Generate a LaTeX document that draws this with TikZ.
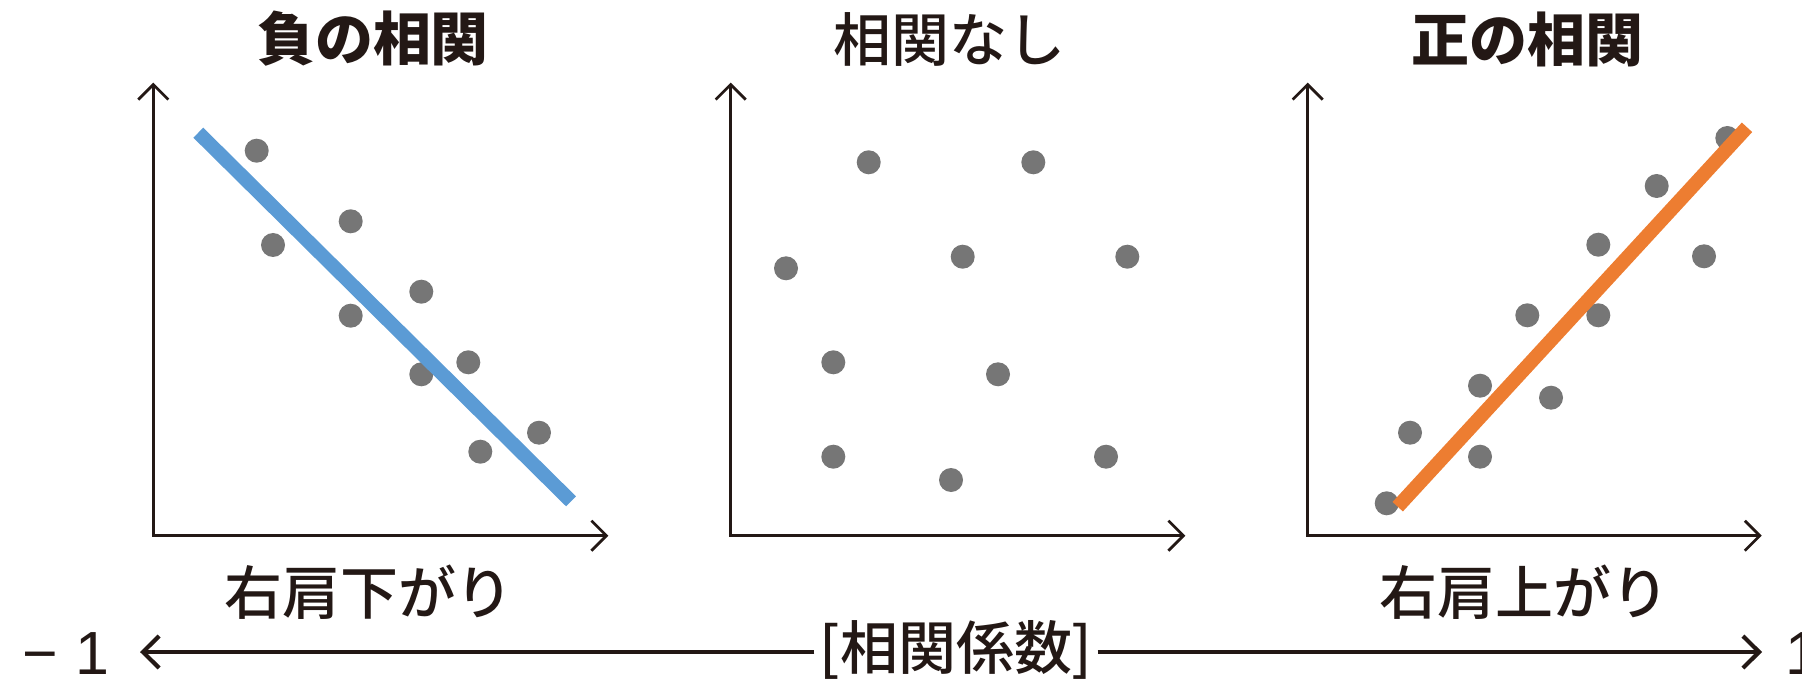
\documentclass[tikz,border=0pt]{standalone}
\usepackage{fontspec}
\setmainfont{Noto Sans CJK JP}[UprightFont={Noto Sans CJK JP Medium},BoldFont={Noto Sans CJK JP Black}]
\newfontfamily\numfont{Liberation Sans}
\usetikzlibrary{arrows.meta}
\definecolor{ink}{RGB}{35,24,21}
\definecolor{dotgray}{RGB}{118,118,118}
\definecolor{negblue}{RGB}{91,155,213}
\definecolor{posorange}{RGB}{237,125,49}
\begin{document}
\begin{tikzpicture}[x=0.03cm,y=-0.03cm,
  axis/.style={draw=ink,line width=2.3pt,line join=miter,
    {Straight Barb[length=12.8pt,width=25.6pt]}-{Straight Barb[length=12.8pt,width=25.6pt]}},
  bigarrow/.style={draw=ink,line width=3.6pt,-{Straight Barb[length=13.7pt,width=27.3pt]}},
  txt/.style={text=ink,inner sep=0pt,font=\fontsize{49.5}{50}\selectfont},
  numtxt/.style={text=ink,inner sep=0pt,font=\fontsize{52}{54}\selectfont\numfont},
  dot/.style={fill=dotgray},
  fitline/.style={line width=12pt,line cap=butt}]
\useasboundingbox (0,0) rectangle (1802,683);
% titles
\node[txt] (t1) at (373,39) {\bfseries 負の相関};
\node[txt] (t2) at (949,39) {相関なし};
\node[txt] (t3) at (1527,39) {\bfseries 正の相関};
% panel 1
\foreach \x/\y in {256.7/150.7,273/245,350.7/221.3,350.7/315.7,421.3/291.7,421.3/374.3,468.3/362.3,480.3/451.7,539/432.7}
  \fill[dot] (\x,\y) circle[radius=0.36cm];
\draw[fitline,draw=negblue] (198.3,132.7) -- (571,501.3);
\draw[axis] (153.3,82.7) -- (153.3,535.7) -- (608.3,535.7);
% panel 2
\foreach \x/\y in {868.7/162.3,1033.3/162.3,786/268.3,962.7/256.7,1127.3/256.7,833.3/362.3,998/374.3,833.3/456.7,951/480,1106/456.7}
  \fill[dot] (\x,\y) circle[radius=0.36cm];
\draw[axis] (730.7,82.7) -- (730.7,535.7) -- (1185.3,535.7);
% panel 3
\foreach \x/\y in {1386.7/503.3,1410/432.7,1480/456.7,1480/385.7,1551/397.7,1527.3/315.3,1598.3/315.3,1598.3/244.7,1704/256.3,1656.7/186,1727.3/138}
  \fill[dot] (\x,\y) circle[radius=0.36cm];
\draw[fitline,draw=posorange] (1397.7,506.7) -- (1747,127.3);
\draw[axis] (1307.7,82.7) -- (1307.7,535.7) -- (1761.7,535.7);
% sublabels
\node[txt] (s1) at (369,592) {右肩下がり};
\node[txt] (s3) at (1524,592) {右肩上がり};
% coefficient axis
\node[txt,inner xsep=4pt] (coef) at (956,650) {[相関係数]};
\coordinate (lefttip) at (140,652);
\coordinate (righttip) at (1762,652);
\draw[bigarrow] (coef.west |- lefttip) -- (lefttip);
\draw[bigarrow] (coef.east |- righttip) -- (righttip);
\node[numtxt,anchor=east] (neg) at (110,654) {−\hspace{0.3em}1};
\node[numtxt,anchor=west] (pos) at (1785,654) {1};
\end{tikzpicture}
\end{document}
